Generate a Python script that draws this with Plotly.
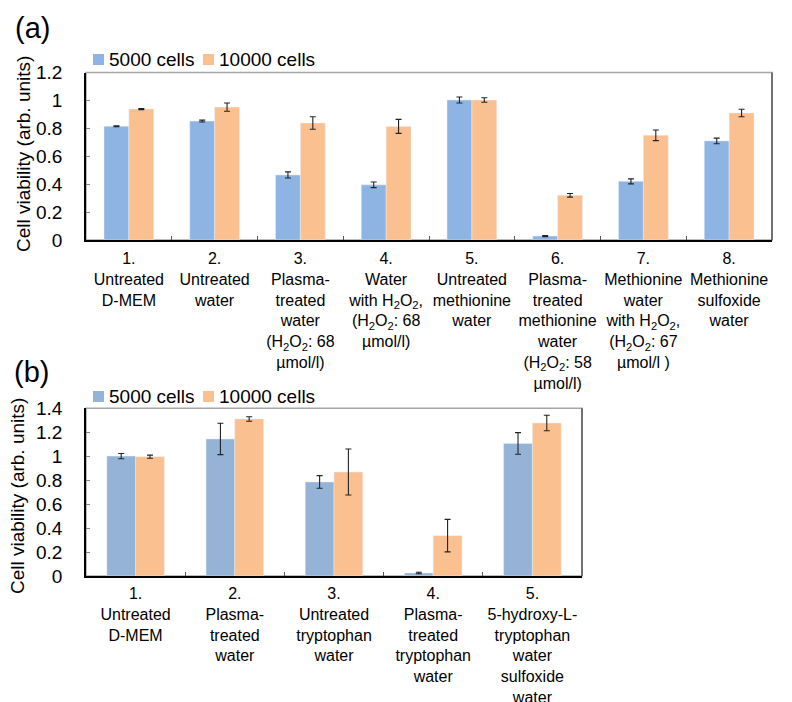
import plotly.graph_objects as go

# ---------------- data ----------------
series_names = ["5000 cells", "10000 cells"]

cats_a = [
    "1.<br>Untreated<br>D-MEM",
    "2.<br>Untreated<br>water",
    "3.<br>Plasma-<br>treated<br>water<br>(H<sub>2</sub>O<sub>2</sub>: 68<br>µmol/l)",
    "4.<br>Water<br>with H<sub>2</sub>O<sub>2</sub>,<br>(H<sub>2</sub>O<sub>2</sub>: 68<br>µmol/l)",
    "5.<br>Untreated<br>methionine<br>water",
    "6.<br>Plasma-<br>treated<br>methionine<br>water<br>(H<sub>2</sub>O<sub>2</sub>: 58<br>µmol/l)",
    "7.<br>Methionine<br>water<br>with H<sub>2</sub>O<sub>2</sub>,<br>(H<sub>2</sub>O<sub>2</sub>: 67<br>µmol/l )",
    "8.<br>Methionine<br>sulfoxide<br>water",
]
a_5000 = [0.815, 0.852, 0.466, 0.395, 1.003, 0.028, 0.420, 0.710]
a_5000_err = [0.003, 0.007, 0.022, 0.020, 0.022, 0.004, 0.018, 0.020]
a_10000 = [0.938, 0.952, 0.838, 0.814, 1.003, 0.320, 0.750, 0.910]
a_10000_err = [0.004, 0.030, 0.045, 0.050, 0.016, 0.013, 0.038, 0.027]

cats_b = [
    "1.<br>Untreated<br>D-MEM",
    "2.<br>Plasma-<br>treated<br>water",
    "3.<br>Untreated<br>tryptophan<br>water",
    "4.<br>Plasma-<br>treated<br>tryptophan<br>water",
    "5.<br>5-hydroxy-L-<br>tryptophan<br>water<br>sulfoxide<br>water",
]
b_5000 = [1.001, 1.144, 0.785, 0.025, 1.107]
b_5000_err = [0.022, 0.131, 0.053, 0.006, 0.090]
b_10000 = [0.996, 1.311, 0.868, 0.337, 1.277]
b_10000_err = [0.013, 0.019, 0.192, 0.136, 0.065]

y_ticks_a = [0, 0.2, 0.4, 0.6, 0.8, 1, 1.2]
y_labels_a = ["0", "0.2", "0.4", "0.6", "0.8", "1", "1.2"]
y_ticks_b = [0, 0.2, 0.4, 0.6, 0.8, 1, 1.2, 1.4]
y_labels_b = ["0", "0.2", "0.4", "0.6", "0.8", "1", "1.2", "1.4"]

y_title = "Cell viability (arb. units)"
panel_labels = ["(a)", "(b)"]

# ---------------- style ----------------
BLUE_A = "#8DB4E2"
BLUE_B = "#95B3D7"
ORANGE = "#FAC090"
FONT = "Liberation Sans, Arial, sans-serif"

err_style = dict(type="data", visible=True, color="#222222", thickness=1.1, width=3)

fig = go.Figure()

fig.add_trace(go.Bar(x=cats_a, y=a_5000, name=series_names[0], marker_color=BLUE_A,
                     error_y=dict(array=a_5000_err, **err_style),
                     xaxis="x", yaxis="y", showlegend=False))
fig.add_trace(go.Bar(x=cats_a, y=a_10000, name=series_names[1], marker_color=ORANGE,
                     error_y=dict(array=a_10000_err, **err_style),
                     xaxis="x", yaxis="y", showlegend=False))
fig.add_trace(go.Bar(x=cats_b, y=b_5000, name=series_names[0], marker_color=BLUE_B,
                     error_y=dict(array=b_5000_err, **err_style),
                     xaxis="x2", yaxis="y2", showlegend=False))
fig.add_trace(go.Bar(x=cats_b, y=b_10000, name=series_names[1], marker_color=ORANGE,
                     error_y=dict(array=b_10000_err, **err_style),
                     xaxis="x2", yaxis="y2", showlegend=False))

W, H = 792, 702

def px_x(v):
    return v / W

def px_y(v):
    return 1 - v / H

xa_common = dict(showgrid=False, showline=True, linecolor="black", linewidth=1.5,
                 ticks="inside", ticklen=4, tickcolor="#555555", tickwidth=1,
                 tickson="boundaries", zeroline=False, fixedrange=True,
                 tickangle=0, automargin=False, tickfont=dict(size=16))
ya_common = dict(showgrid=False, showline=True, linecolor="black", linewidth=1.5,
                 ticks="inside", ticklen=4, tickcolor="#888888", tickwidth=1,
                 zeroline=False, automargin=False, fixedrange=True,
                 tickfont=dict(size=19), ticklabelstandoff=18)

shapes = []
annotations = []

# frames (gray top, darker right) for each panel
for xr, yr in [("x domain", "y domain"), ("x2 domain", "y2 domain")]:
    shapes.append(dict(type="rect", xref=xr, yref=yr, x0=0, x1=1, y0=0, y1=1,
                       line=dict(color="#A6A6A6", width=1.5), layer="below"))
    shapes.append(dict(type="line", xref=xr, yref=yr, x0=1, x1=1, y0=0, y1=1,
                       line=dict(color="#595959", width=1.5), layer="below"))

# legend keys (one row per panel): square + label
legend_rows = [(59.5, [BLUE_A, ORANGE], 19), (396.5, [BLUE_B, ORANGE], 19)]
key_x = [(93, 104, 107), (203, 214, 217)]
for yc, colors, fs in legend_rows:
    for (x0, x1, tx), col, name in zip(key_x, colors, series_names):
        shapes.append(dict(type="rect", xref="paper", yref="paper",
                           x0=px_x(x0), x1=px_x(x1), y0=px_y(yc - 5.5), y1=px_y(yc + 5.5),
                           fillcolor=col, line=dict(width=0)))
        annotations.append(dict(text=name, xref="paper", yref="paper", x=px_x(tx), y=px_y(yc),
                                xanchor="left", yanchor="middle", showarrow=False,
                                font=dict(size=fs)))

# y-axis titles
for xc, yc in [(23, 154), (17, 496)]:
    annotations.append(dict(text=y_title, xref="paper", yref="paper", x=px_x(xc), y=px_y(yc),
                            xanchor="center", yanchor="middle", textangle=-90,
                            showarrow=False, font=dict(size=19)))

# panel labels
for lab, (xl, yc) in zip(panel_labels, [(13, 28), (12, 372)]):
    annotations.append(dict(text=lab, xref="paper", yref="paper", x=px_x(xl), y=px_y(yc),
                            xanchor="left", yanchor="middle", showarrow=False,
                            font=dict(size=29)))

fig.update_layout(
    width=W, height=H,
    margin=dict(l=0, r=0, t=0, b=0, autoexpand=False),
    paper_bgcolor="white", plot_bgcolor="white",
    font=dict(family=FONT, color="black"),
    barmode="group", bargap=0.42, bargroupgap=0,
    showlegend=False,
    xaxis=dict(domain=[px_x(86), px_x(772)], anchor="y", ticklabelstandoff=3, **xa_common),
    yaxis=dict(domain=[px_y(240), px_y(72.5)], anchor="x", range=[0, 1.2],
               tickvals=y_ticks_a, ticktext=y_labels_a, **ya_common),
    xaxis2=dict(domain=[px_x(86), px_x(582)], anchor="y2", ticklabelstandoff=2, **xa_common),
    yaxis2=dict(domain=[px_y(576), px_y(408.3)], anchor="x2", range=[0, 1.4],
                tickvals=y_ticks_b, ticktext=y_labels_b, **ya_common),
    shapes=shapes,
    annotations=annotations,
)

fig.write_html("out.html", config={"displayModeBar": False},
               post_script="document.body.style.margin='0px';")
